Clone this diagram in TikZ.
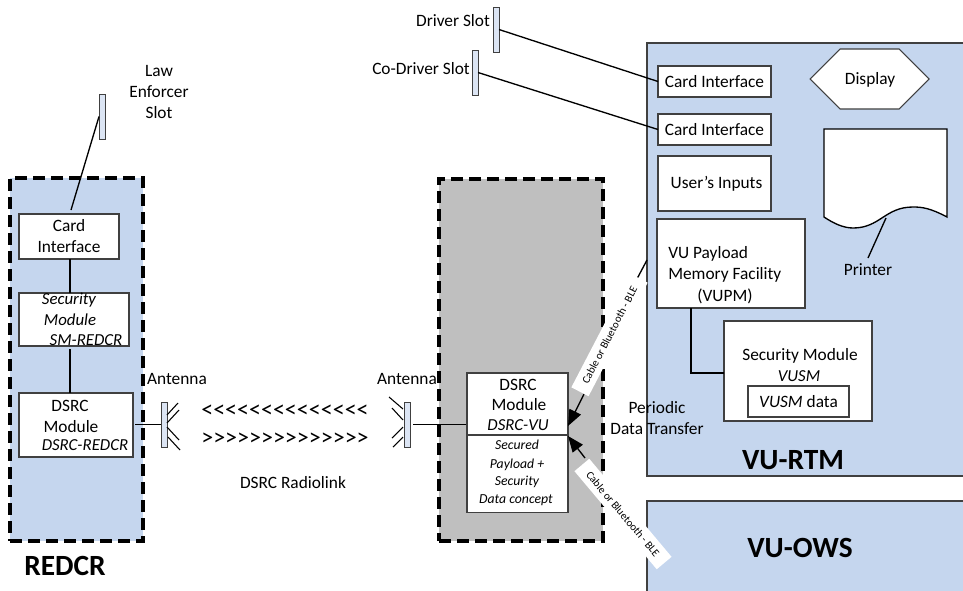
\documentclass[tikz,border=0pt]{standalone}
\usepackage{xcolor}
\usepackage{fontspec}
\setmainfont{Carlito}
\definecolor{paleblue}{HTML}{C5D6EE}
\definecolor{slotblue}{HTML}{DCE5F4}
\definecolor{boxgrey}{HTML}{BFBFBF}
\definecolor{edgegrey}{HTML}{404040}
\usetikzlibrary{arrows.meta}
\tikzset{
  unitbox/.style={draw=edgegrey, line width=.9pt, fill=paleblue, inner sep=0pt, outer sep=0pt},
  whitebox/.style={draw=edgegrey, line width=.8pt, fill=white, inner sep=0pt, outer sep=0pt, align=center, font=\fontsize{13}{15.75}\selectfont},
  dashbox/.style={draw=black, line width=2.4pt, dash pattern=on 9pt off 4.5pt, inner sep=0pt, outer sep=0pt},
  slotbox/.style={draw=edgegrey, line width=.7pt, fill=slotblue, minimum width=4.5pt, minimum height=33.75pt, inner sep=0pt, outer sep=0pt},
  wire/.style={draw=black, line width=1pt},
  prong/.style={draw=black, line width=.8pt},
  plain/.style={font=\fontsize{13}{15.4}\selectfont, align=center, inner sep=0pt},
  slanted/.style={font=\fontsize{12.6}{15}\selectfont\itshape, inner sep=0pt},
  smallslanted/.style={font=\fontsize{10.3}{12}\selectfont\itshape, inner sep=0pt},
  heading/.style={font=\fontsize{22}{24}\selectfont\bfseries, inner sep=0pt},
  cablelabel/.style={fill=white, font=\fontsize{8.2}{10}\selectfont, inner sep=0pt, minimum height=14.5pt, minimum width=96pt},
  feed/.style={draw=black, line width=1pt, -{Triangle[length=12pt,width=9.5pt]}}
}
\begin{document}
\begin{tikzpicture}[x=.75pt,y=-.75pt]
  \useasboundingbox (0,0) rectangle (963,590);
  % large coloured areas
  \node (RTM)[unitbox, anchor=north west, minimum width=330pt, minimum height=324.75pt] at (647,43) {};
  \node (OWS)[unitbox, anchor=north west, minimum width=330pt, minimum height=80pt] at (647,501) {};
  \node (REDCR)[dashbox, fill=paleblue, anchor=north west, minimum width=99.75pt, minimum height=272.25pt] at (10,178) {};
  \node (VUgrey)[dashbox, fill=boxgrey, anchor=north west, minimum width=123pt, minimum height=271.5pt] at (439,179) {};
  % REDCR side
  \node (LawSlot)[slotbox] at (102,116.5) {};
  \node (LawText)[plain] at (159,92) {Law\\Enforcer\\Slot};
  \node (CardR)[whitebox, anchor=north west, minimum width=75pt, minimum height=33.75pt] at (19,214) {Card\\Interface};
  \node (SecR)[whitebox, anchor=north west, minimum width=82.5pt, minimum height=39.75pt] at (19,293) {};
  \node (SecRa)[slanted] at (69,300) {Security};
  \node (SecRb)[slanted] at (70,320) {Module};
  \node (SecRc)[slanted] at (86,340) {SM-REDCR};
  \node (DsrcR)[whitebox, anchor=north west, minimum width=85.5pt, minimum height=48pt] at (19,393) {};
  \node (DsrcRa)[plain] at (70,406) {DSRC};
  \node (DsrcRb)[plain] at (71,427) {Module};
  \node (DsrcRc)[slanted] at (85,445) {DSRC-REDCR};
  \node (AntR)[slotbox] at (164,424.5) {};
  \node (AntRText)[plain] at (177,379) {Antenna};
  \node (RedcrText)[heading] at (65,566) {REDCR};
  % radio link
  \node (LinkL)[plain, font=\fontsize{18}{19}\selectfont] at (285,411) {<{}<{}<{}<{}<{}<{}<{}<{}<{}<{}<{}<{}<{}<};
  \node (LinkR)[plain, font=\fontsize{18}{19}\selectfont] at (285,439) {>{}>{}>{}>{}>{}>{}>{}>{}>{}>{}>{}>{}>{}>};
  \node (LinkText)[plain] at (293,483) {DSRC Radiolink};
  % VU side
  \node (AntV)[slotbox] at (407,424.5) {};
  \node (AntVText)[plain] at (407,379) {Antenna};
  \node (DsrcV)[whitebox, anchor=north west, minimum width=75.75pt, minimum height=46.5pt] at (467,373) {};
  \node (DsrcVa)[plain] at (518,385) {DSRC};
  \node (DsrcVb)[plain] at (519,405) {Module};
  \node (DsrcVc)[slanted] at (518,425) {DSRC-VU};
  \node (Concept)[whitebox, anchor=north west, minimum width=75.75pt, minimum height=58pt] at (467,435) {};
  \node (Conca)[smallslanted] at (517,445) {Secured};
  \node (Concb)[smallslanted] at (517,465) {Payload +};
  \node (Concc)[smallslanted] at (517,482) {Security};
  \node (Concd)[smallslanted] at (516,500) {Data concept};
  \node (Periodic)[plain] at (657,418) {Periodic\\Data Transfer};
  % slots and their interfaces
  \node (DriverSlot)[slotbox] at (496,29.5) {};
  \node (CoSlot)[slotbox] at (475,72.5) {};
  \node (DriverText)[plain] at (453,21) {Driver Slot};
  \node (CoText)[plain] at (421,69) {Co-Driver Slot};
  \node (CardA)[whitebox, anchor=north west, minimum width=84.75pt, minimum height=23.25pt] at (658,66) {Card Interface};
  \node (CardB)[whitebox, anchor=north west, minimum width=84.75pt, minimum height=23.25pt] at (658,114) {Card Interface};
  \node (Inputs)[whitebox, anchor=north west, minimum width=84.75pt, minimum height=41.25pt] at (658,156) {\hspace{3pt}User's Inputs};
  \node (Payload)[whitebox, anchor=north west, minimum width=111pt, minimum height=66.75pt] at (657,219) {};
  \node (Paya)[plain, anchor=west] at (668,254) {VU Payload};
  \node (Payb)[plain, anchor=west] at (668,275) {Memory Facility};
  \node (Payc)[plain] at (725,296) {(VUPM)};
  \draw[draw=edgegrey, line width=.8pt, fill=white] (810,79) -- (840,49) -- (899,49) -- (929,79) -- (899,109) -- (840,109) -- cycle;
  \node (DisplayText)[plain] at (870,80) {Display};
  \draw[draw=black, line width=1pt, fill=white] (824,129) -- (947,129) -- (947,217)
    .. controls (930,208) and (922,207) .. (913,207)
    .. controls (885,207) and (880,228) .. (853,228)
    .. controls (843,228) and (833,223) .. (824,217) -- cycle;
  \coordinate (PrintEdge) at (886,218);
  \coordinate (PrintFoot) at (868,258);
  \node (PrinterText)[plain] at (868,270) {Printer};
  \node (SecV)[whitebox, anchor=north west, minimum width=111pt, minimum height=75pt] at (724,321) {};
  \node (SecVa)[plain] at (800,356) {Security Module};
  \node (SecVb)[slanted] at (799,376) {VUSM};
  \node (VusmData)[whitebox, anchor=north west, minimum width=75.75pt, minimum height=23.25pt] at (748,386) {\textit{VUSM} data};
  \node (RtmText)[heading] at (793,460) {VU-RTM};
  \node (OwsText)[heading] at (800,548) {VU-OWS};
  % connectors
  \coordinate (LawEnd) at (71,210);
  \coordinate (CardRBot) at (70,259);
  \coordinate (SecRTop) at (70,293);
  \coordinate (SecRBot) at (70,349);
  \coordinate (DsrcRTop) at (70,393);
  \coordinate (DsrcROut) at (135,424.5);
  \coordinate (AntVOut) at (413,424.5);
  \coordinate (DsrcVIn) at (466,424.5);
  \coordinate (PayBot) at (691,308);
  \coordinate (SecVIn) at (724,373);
  \draw[wire] (LawSlot.west) -- (LawEnd);
  \draw[wire] (CardRBot) -- (SecRTop);
  \draw[wire] (SecRBot) -- (DsrcRTop);
  \draw[wire] (DsrcROut) -- (AntR.west);
  \draw[wire] (AntVOut) -- (DsrcVIn);
  \draw[wire] (DriverSlot.east) -- (CardA.west);
  \draw[wire] (CoSlot.east) -- (CardB.west);
  \draw[wire] (PrintEdge) -- (PrintFoot);
  \draw[wire] (PayBot) |- (SecVIn);
  % antenna prongs
  \foreach \a/\b/\c/\d in {167/415/178/403, 167/423/179/410, 167/427/179/440, 168/437/180/450,
                           403/409/389/397, 403/420/392/408, 403/427/392/438, 403/437/393/447}{
    \draw[prong] (\a,\b) -- (\c,\d);
  }
  % cable or radio feeds
  \coordinate (FeedTop) at (647,260);
  \coordinate (FeedMid) at (630,292);
  \coordinate (FeedLow) at (584,394);
  \coordinate (FeedEnd) at (568,426);
  \coordinate (OwsEnd) at (568,436);
  \coordinate (OwsStart) at (585,458);
  \draw[wire] (FeedTop) -- (FeedMid);
  \draw[feed] (FeedLow) -- (FeedEnd);
  \draw[feed] (OwsStart) -- (OwsEnd);
  \node (CableA)[cablelabel, rotate=62.5] at (609.5,335) {Cable or Bluetooth - BLE};
  \node (CableB)[cablelabel, rotate=-50] at (623,514) {Cable or Bluetooth - BLE};
\end{tikzpicture}
\end{document}
